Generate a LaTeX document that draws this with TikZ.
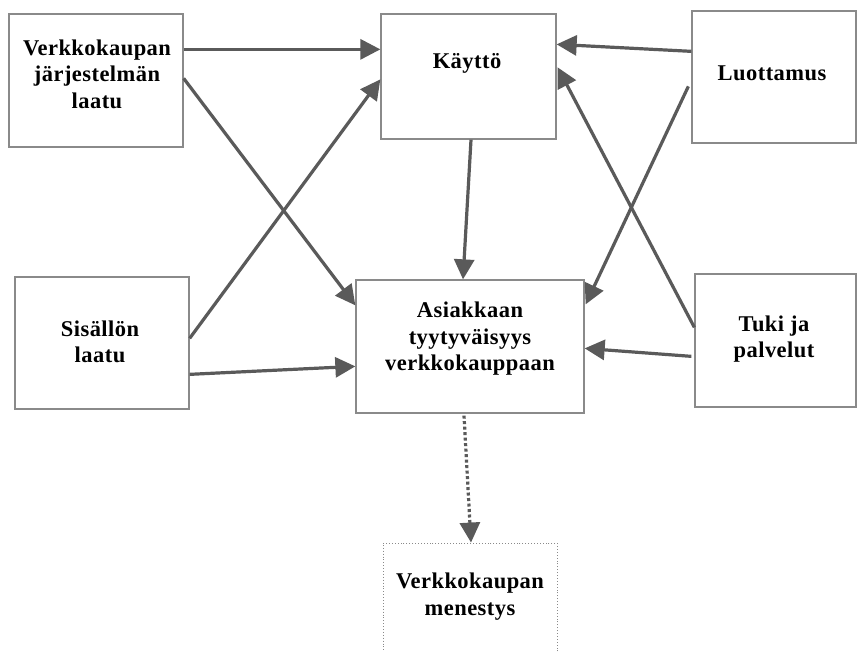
\documentclass[tikz,border=0pt]{standalone}
\usepackage{fontspec}
\setmainfont{Liberation Serif}[LetterSpace=2]
\usetikzlibrary{arrows.meta,calc}
\definecolor{arrgray}{HTML}{5A5A5A}
\definecolor{boxgray}{HTML}{8A8A8A}
\tikzset{
  box/.style={draw=boxgray, line width=1.3pt, rectangle, inner sep=0pt},
  dotbox/.style={draw=boxgray, line width=0.9pt, dotted, rectangle, inner sep=0pt},
  txt/.style={font=\fontsize{22.5}{26.5}\selectfont\bfseries, align=center, inner sep=0pt},
  arr/.style={draw=arrgray, line width=3.2pt, -{Triangle[length=20pt,width=20pt]}},
  dotarr/.style={arr, dash pattern=on 3pt off 2.5pt}
}
\begin{document}
\begin{tikzpicture}[x=1pt,y=-1pt]
\useasboundingbox (0,0) rectangle (858,651);
\fill[white] (0,0) rectangle (858,651);
% boxes
\node[box, minimum width=174pt, minimum height=133pt] (b1) at (96,80.5) {};
\node[box, minimum width=175pt, minimum height=125pt] (kay) at (468.5,76.5) {};
\node[box, minimum width=164pt, minimum height=132pt] (luo) at (774,77) {};
\node[box, minimum width=174pt, minimum height=132pt] (sis) at (102,343) {};
\node[box, minimum width=228pt, minimum height=133pt] (asi) at (470,346.5) {};
\node[box, minimum width=161pt, minimum height=133pt] (tuk) at (775.5,340.5) {};
\node[dotbox, minimum width=174pt, minimum height=117pt] (men) at (470,601.5) {};
% texts
\node[txt] (b1t) at (97,74) {Verkkokaupan\\järjestelmän\\laatu};
\node[txt] (kayt) at (467,63) {Käyttö};
\node[txt] (luot) at (772,73) {Luottamus};
\node[txt] (sist) at (100,342) {Sisällön\\laatu};
\node[txt] (asit) at (470,339) {Asiakkaan\\tyytyväisyys\\verkkokauppaan};
\node[txt] (tukt) at (774,339) {Tuki ja\\palvelut};
\node[txt] (ment) at (470,596.5) {Verkkokaupan\\menestys};
% arrows
\draw[arr] ($(b1.north east)+(0,36)$) -- ($(kay.north west)+(0,36)$);
\draw[arr] ($(b1.north east)+(0,65)$) -- ($(asi.north west)+(0,26)$);
\draw[arr] ($(sis.north east)+(0,62)$) -- ($(kay.north west)+(0,66)$);
\draw[arr] ($(sis.north east)+(0,98)$) -- ($(asi.north west)+(0,87)$);
\draw[arr] ($(luo.north west)+(0,41)$) -- ($(kay.north east)+(0,31)$);
\draw[arr] ($(luo.north west)+(-3,76)$) -- ($(asi.north east)+(1,25)$);
\draw[arr] ($(tuk.north west)+(0,54)$) -- ($(kay.north east)+(1,54)$);
\draw[arr] ($(tuk.north west)+(-3,83)$) -- ($(asi.north east)+(0,69)$);
\draw[arr] ($(kay.south)+(2.5,0)$) -- ($(asi.north)+(-7,0)$);
\draw[dotarr] ($(asi.south)+(-6,2)$) -- ($(men.north)+(1,0)$);
\end{tikzpicture}
\end{document}
